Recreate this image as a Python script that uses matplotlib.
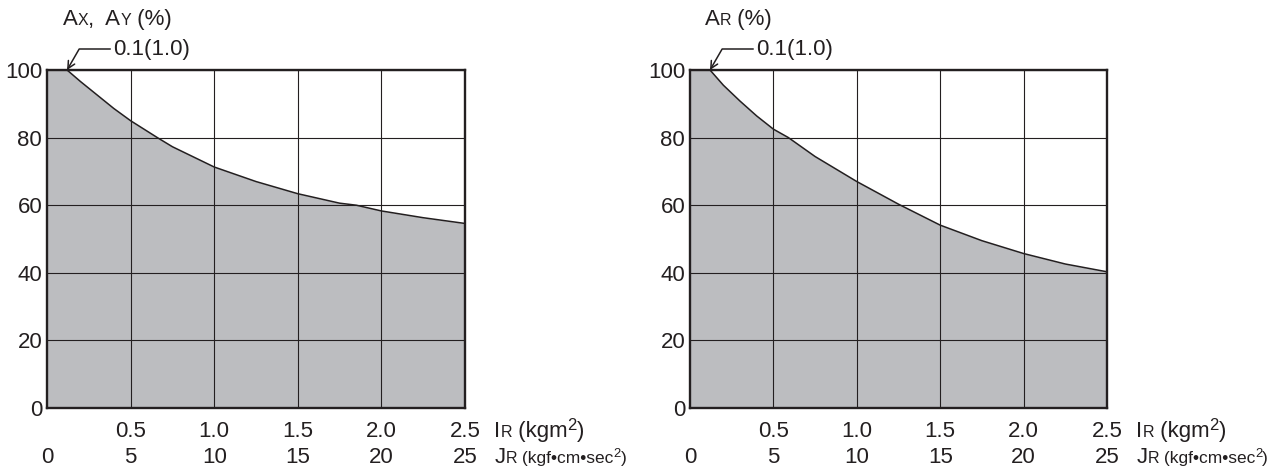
import matplotlib
matplotlib.use("Agg")
import matplotlib.pyplot as plt
from matplotlib import font_manager
from matplotlib.transforms import blended_transform_factory

plt.rcParams['font.family'] = ['Liberation Sans', 'DejaVu Sans']

# moment of inertia ticks: I_R (kgm2) and J_R (kgf.cm.sec2)
ir_ticks = [0.5, 1.0, 1.5, 2.0, 2.5]
ir_labels = ['0.5', '1.0', '1.5', '2.0', '2.5']
jr_ticks = [0, 0.5, 1.0, 1.5, 2.0, 2.5]
jr_labels = ['0', '5', '10', '15', '20', '25']
pct_ticks = [0, 20, 40, 60, 80, 100]

# Ax, Ay curve
axy_ir = [0.12, 0.2, 0.3, 0.4, 0.5, 0.66, 0.75, 1.0, 1.25, 1.5, 1.75, 1.85, 2.0, 2.25, 2.5]
axy_pct = [100, 96.6, 92.6, 88.6, 85.0, 80.0, 77.3, 71.3, 67.0, 63.4, 60.6, 60.0, 58.3, 56.3, 54.6]

# Ar curve
ar_ir = [0.12, 0.2, 0.3, 0.4, 0.5, 0.59, 0.75, 1.0, 1.25, 1.5, 1.75, 2.0, 2.25, 2.5]
ar_pct = [100, 95.5, 90.8, 86.4, 82.5, 80.0, 74.4, 67.0, 60.3, 54.1, 49.5, 45.7, 42.6, 40.3]

INK = '#231f20'
FILL = '#bcbdc0'
FS = 16
SMALL = 11.5

sans = ['Liberation Sans', 'DejaVu Sans']
names = {f.name for f in font_manager.fontManager.ttflist}
if 'Liberation Sans Narrow' in names:
    narrow, narrow_fs = ['Liberation Sans Narrow', 'DejaVu Sans'], 16
else:
    narrow, narrow_fs = sans, 12.5


def rich_text(ax, x, y, parts):
    # pieces of text side by side, each with its own size/family and rise
    prev = None
    for part in parts:
        txt, size, fam = part[:3]
        rise = part[3] if len(part) > 3 else 0
        if prev is None:
            prev = ax.text(x, y + rise, txt, transform=ax.transAxes, fontsize=size,
                           family=fam, color=INK, ha='left', va='baseline',
                           clip_on=False)
        else:
            prev = ax.annotate(txt, xy=(1, y + rise), xycoords=(prev, ax.transAxes),
                               fontsize=size, family=fam, color=INK,
                               ha='left', va='baseline', annotation_clip=False)
    return prev


def panel(ax, x, y, title_parts, title_x):
    ax.fill_between([0] + x, [100] + y, 0, color=FILL, lw=0, zorder=1)
    ax.plot(x, y, color=INK, lw=1.1, zorder=3)
    ax.set_xlim(0, 2.5)
    ax.set_ylim(0, 100)
    ax.set_xticks(ir_ticks)
    ax.set_xticklabels([])
    ax.set_yticks(pct_ticks)
    ax.set_yticklabels([str(v) for v in pct_ticks], fontsize=FS, color=INK)
    ax.tick_params(length=0, pad=3.5)
    ax.grid(True, color=INK, lw=0.8)
    for s in ax.spines.values():
        s.set_linewidth(1.7)
        s.set_color(INK)

    tr = blended_transform_factory(ax.transData, ax.transAxes)
    for t, lab in zip(ir_ticks, ir_labels):
        ax.text(t, -0.085, lab, transform=tr, ha='center', va='baseline',
                fontsize=FS, color=INK)
    for t, lab in zip(jr_ticks, jr_labels):
        ax.text(t, -0.164, lab, transform=tr, ha='center', va='baseline',
                fontsize=FS, color=INK)

    rich_text(ax, 1.07, -0.085, [('I', FS, sans), ('R', SMALL, sans),
                                 (' (kgm', FS, sans), ('2', 12, sans, 0.02),
                                 (')', FS, sans)])
    rich_text(ax, 1.07, -0.164, [('J', FS, sans), ('R', SMALL, sans),
                                 (' (kgf\u2022cm\u2022sec', narrow_fs, narrow),
                                 ('2', narrow_fs * 0.75, narrow, 0.018),
                                 (')', narrow_fs, narrow)])

    rich_text(ax, title_x, 1.133, title_parts)

    ax.annotate('0.1(1.0)', xy=(x[0], y[0]), xytext=(46, 21),
                textcoords='offset pixels', ha='left', va='center',
                fontsize=FS, color=INK, annotation_clip=False,
                arrowprops=dict(arrowstyle='->', color=INK, lw=1.1,
                                shrinkA=0, shrinkB=0, mutation_scale=13,
                                relpos=(0, 0.5),
                                connectionstyle='angle,angleA=0,angleB=60,rad=0'))


fig = plt.figure(figsize=(12.75, 4.74), dpi=100)
ax1 = fig.add_axes([47 / 1275, 1 - 408 / 474, 418 / 1275, 338 / 474])
ax2 = fig.add_axes([690 / 1275, 1 - 408 / 474, 417 / 1275, 338 / 474])

panel(ax1, axy_ir, axy_pct, [('A', FS, sans), ('X', SMALL, sans), (',  A', FS, sans),
                             ('Y', SMALL, sans), (' (%)', FS, sans)], 0.038)
panel(ax2, ar_ir, ar_pct, [('A', FS, sans), ('R', SMALL, sans), (' (%)', FS, sans)], 0.036)

fig.savefig('out.png', dpi=100)
